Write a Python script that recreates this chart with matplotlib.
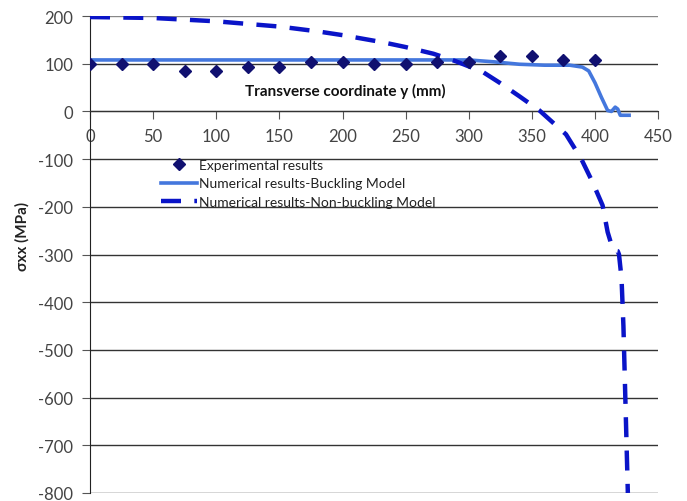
import numpy as np
import matplotlib
matplotlib.use("Agg")
import matplotlib.pyplot as plt

plt.rcParams['font.family'] = ['Lato', 'DejaVu Sans']
plt.rcParams['axes.unicode_minus'] = False

# experimental points
exp_x = [0, 25, 50, 75, 100, 125, 150, 175, 200, 225, 250, 275, 300, 325, 350, 375, 400]
exp_y = [99, 99, 99, 85, 85, 94, 94, 103, 103, 99, 99, 103, 103, 117, 117, 108, 108]

# numerical - buckling model
buck_x = [0, 100, 200, 300, 320, 340, 360, 380, 390, 395, 400, 405, 410, 413, 416, 418, 420, 427]
buck_y = [108, 108, 108, 108, 104, 99, 97, 97, 93, 85, 60, 30, 2, 0, 9, 5, -8, -8]

# numerical - non-buckling model
nb_x = [0, 50, 100, 150, 180, 200, 232, 250, 272, 290, 311, 324, 340, 356, 377, 389, 398, 406,
        410, 414, 416, 418, 419, 421, 422.5, 423.5, 424.5, 425.5, 426]
nb_y = [198, 196, 189, 178, 168, 160, 145, 135, 121, 105, 83, 61, 32, 2, -48, -99, -148, -197,
        -253, -288, -292, -293, -300, -350, -450, -550, -650, -750, -800]

x_ticks = np.arange(0, 451, 50)
y_ticks = np.arange(-800, 201, 100)

fig = plt.figure(figsize=(6.87, 5.02), dpi=100)
ax = fig.add_axes([0.131, 0.016, 0.827, 0.95])

for yv in y_ticks:
    ax.axhline(yv, color='#888888' if yv == 200 else '#333333', lw=1.0, zorder=1)

ax.plot(buck_x, buck_y, color='#4477dd', lw=2.6, zorder=3,
        label='Numerical results-Buckling Model')
ax.plot(nb_x, nb_y, color='#0a14c8', lw=3.2, ls=(0, (4.5, 3.0)), zorder=3,
        label='Numerical results-Non-buckling Model')
ax.plot(exp_x, exp_y, 'D', color='#101070', ms=6, ls='none', zorder=4,
        label='Experimental results')

ax.set_xlim(0, 450)
ax.set_ylim(-800, 200)
ax.spines['top'].set_visible(False)
ax.spines['right'].set_visible(False)
ax.spines['bottom'].set_position(('data', 0))
ax.spines['bottom'].set_color('#333333')
ax.spines['left'].set_color('#222222')
ax.set_xticks(x_ticks)
ax.set_yticks(y_ticks)
ax.tick_params(axis='both', direction='out', length=6, labelsize=12,
               labelcolor='#444444', color='#555555')
ax.tick_params(axis='x', pad=6)
ax.tick_params(axis='y', pad=6)

ax.text(0.449, 0.845, 'Transverse coordinate y (mm)', transform=ax.transAxes,
        ha='center', va='center', fontsize=11, fontweight='bold', color='#111111')
fig.text(0.032, 0.53, 'σxx (MPa)', rotation=90, ha='center', va='center',
         fontsize=11, fontweight='bold', color='#222222')

h, l = ax.get_legend_handles_labels()
order = [2, 0, 1]
ax.legend([h[i] for i in order], [l[i] for i in order], loc='upper left',
          bbox_to_anchor=(0.125, 0.70), frameon=False, fontsize=10,
          handlelength=2.6, handletextpad=0.1, borderpad=0, borderaxespad=0,
          labelspacing=0.45, labelcolor='#222222')

fig.savefig('out.png', dpi=100)
